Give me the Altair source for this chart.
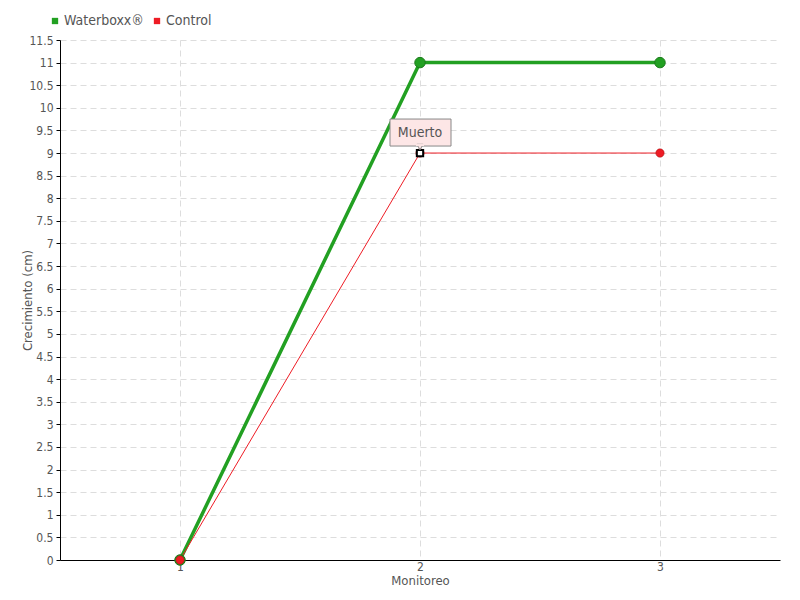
import altair as alt
import pandas as pd

monitoreo = [1, 2, 3]
waterboxx = [0, 11, 11]
control = [0, 9, 9]
series_names = ["Waterboxx®", "Control"]
series_colors = ["#22a022", "#ee1c25"]
y_ticks = [i * 0.5 for i in range(24)]
annot_x = [2]
annot_y = [9]
annot_text = ["Muerto"]

FONT = "DejaVu Sans Condensed"
TXT = "#555555"

rows = []
for x, w in zip(monitoreo, waterboxx):
    rows.append({"Monitoreo": x, "Crecimiento": w, "Serie": series_names[0]})
for x, c in zip(monitoreo, control):
    rows.append({"Monitoreo": x, "Crecimiento": c, "Serie": series_names[1]})
df = pd.DataFrame(rows)
ann = pd.DataFrame({"Monitoreo": annot_x, "Crecimiento": annot_y, "label": annot_text})

xs = alt.Scale(domain=[0.5, 3.5], nice=False, zero=False)
ys = alt.Scale(domain=[0, 11.5], nice=False)
cs = alt.Scale(domain=series_names, range=series_colors)

x_axis = alt.Axis(values=monitoreo, format="d", tickSize=0, labelPadding=1,
                  titlePadding=2, domainColor="#000", gridDash=[6, 4], gridColor="#dddddd")
y_axis = alt.Axis(values=y_ticks, format="~g", tickSize=4, tickColor="#000", domainColor="#000",
                  labelOverlap=False, labelFlush=False, labelPadding=3, tickCount=24,
                  gridDash=[6, 4], gridColor="#dddddd",
                  titleX=-33, titleY=260, titleBaseline="middle", titleAlign="center")
X = alt.X("Monitoreo:Q", scale=xs, title="Monitoreo", axis=x_axis)
Y = alt.Y("Crecimiento:Q", scale=ys, title="Crecimiento (cm)", axis=y_axis)

base = alt.Chart(df).encode(x=X, y=Y)

g = base.transform_filter(alt.datum.Serie == series_names[0])
r = base.transform_filter(alt.datum.Serie == series_names[1])

green_line = g.mark_line(strokeWidth=3.5).encode(
    color=alt.Color("Serie:N", scale=cs, title=None,
                    legend=alt.Legend(orient="none", legendX=-12, legendY=-26, direction="horizontal",
                                      symbolType="square", symbolSize=40, labelFontSize=14,
                                      labelFont=FONT, labelColor=TXT, columnPadding=6,
                                      symbolStrokeWidth=0, labelOffset=2)))
red_line = r.mark_line(strokeWidth=1).encode(color=alt.Color("Serie:N", scale=cs))
green_pts = g.mark_circle(size=110, opacity=1, stroke="#1a7a1a", strokeWidth=1).encode(
    color=alt.Color("Serie:N", scale=cs))
red_pts = r.mark_circle(size=70, opacity=1, stroke="#a01010", strokeWidth=0.5).encode(
    color=alt.Color("Serie:N", scale=cs))

ab = alt.Chart(ann).encode(x=X, y=Y)
marker = ab.mark_square(size=40, fill="white", stroke="#000", strokeWidth=2, opacity=1)
box = ab.mark_rect(fill="#fde6e6", stroke="#888888", strokeWidth=1, xOffset=-30, x2Offset=31,
                   yOffset=-34, y2Offset=-7).encode(x2="Monitoreo:Q", y2="Crecimiento:Q")
pointer = ab.mark_point(shape="triangle-down", size=40, filled=True, fill="#fde6e6",
                        stroke="#888888", strokeWidth=1, yOffset=-6, opacity=1)
pointer_cover = ab.mark_rect(fill="#fde6e6", xOffset=-4, x2Offset=4,
                             yOffset=-9, y2Offset=-7).encode(x2="Monitoreo:Q", y2="Crecimiento:Q")
label = ab.mark_text(font=FONT, fontSize=14, color=TXT, dy=-20).encode(text="label:N")

chart = alt.layer(green_line, red_line, green_pts, red_pts, marker, box, pointer, pointer_cover, label).properties(
    width=720, height=520, autosize=alt.AutoSizeParams(type="none"),
    padding={"left": 52, "top": 32, "right": 12, "bottom": 32}
).configure_axis(
    labelFont=FONT, titleFont=FONT, labelFontSize=12, titleFontSize=13,
    labelColor=TXT, titleColor=TXT, titleFontWeight="normal"
).configure_view(stroke=None)

chart.save("out.html", embed_options={"renderer": "svg", "actions": False})
